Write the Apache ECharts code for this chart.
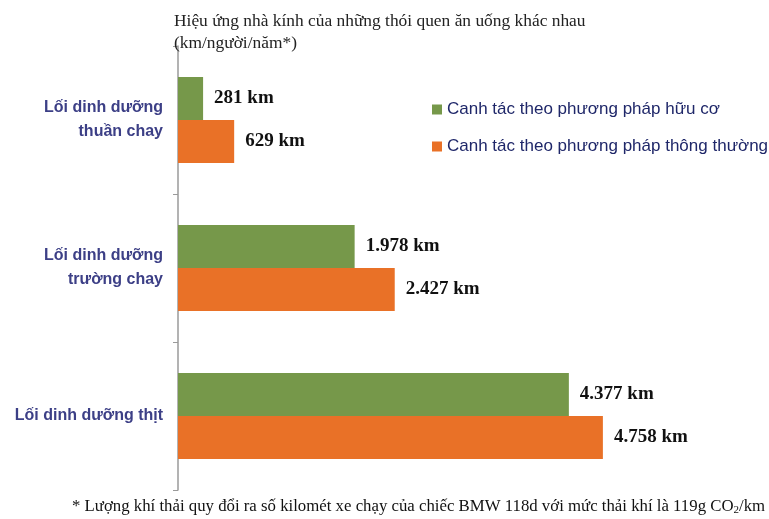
<!DOCTYPE html>
<html><head><meta charset="utf-8">
<script src="https://cdn.jsdelivr.net/npm/echarts@6/dist/echarts.min.js"></script>
<style>html,body{margin:0;padding:0;background:#fff}#c{width:769px;height:519px}</style>
</head><body><div id="c"></div>
<script>
var categories = ['Lối dinh dưỡng\nthuần chay', 'Lối dinh dưỡng\ntrường chay', 'Lối dinh dưỡng thịt'];
var seriesNames = ['Canh tác theo phương pháp hữu cơ', 'Canh tác theo phương pháp thông thường'];
var organic = [281, 1978, 4377];
var conventional = [629, 2427, 4758];
var titleText = 'Hiệu ứng nhà kính của những thói quen ăn uống khác nhau\n(km/người/năm*)';

function fmt(v){ return String(v).replace(/\B(?=(\d{3})+(?!\d))/g, '.') + ' km'; }
var labelCfg = {show:true, position:'right', distance:11, color:'#111', fontFamily:'Liberation Serif', fontWeight:'bold', fontSize:19,
  formatter:function(p){return fmt(p.value);}};

var chart = echarts.init(document.getElementById('c'), null, {renderer:'canvas'});
chart.setOption({
  animation:false,
  backgroundColor:'#fff',
  title:{text:titleText, left:169, top:5, textStyle:{fontFamily:'Liberation Serif', fontWeight:'normal', fontSize:17.4, color:'#222', lineHeight:22}},
  legend:{orient:'vertical', left:427, top:96, itemWidth:10, itemHeight:10, itemGap:20, icon:'rect',
    textStyle:{fontFamily:'Liberation Sans', fontSize:17, color:'#1f2769'}, data:seriesNames},
  grid:{left:178, right:144.5, top:46, bottom:29},
  xAxis:{type:'value', min:0, max:5000, show:false},
  yAxis:{type:'category', data:categories, inverse:true,
    axisLine:{lineStyle:{color:'#9a9a9a', width:1.5}},
    axisTick:{show:true, length:5, lineStyle:{color:'#9a9a9a'}},
    axisLabel:{margin:15, color:'#3c3f86', fontFamily:'Liberation Sans', fontWeight:'bold', fontSize:16, lineHeight:24, align:'right'}},
  series:[
    {name:seriesNames[0], type:'bar', data:organic, barWidth:43, barGap:'0%', itemStyle:{color:'#76984a'}, label:labelCfg},
    {name:seriesNames[1], type:'bar', data:conventional, barWidth:43, barGap:'0%', itemStyle:{color:'#e97127'}, label:labelCfg}
  ],
  graphic:[{type:'text', left:72, top:498, style:{
    text:'* Lượng khí thải quy đổi ra số kilomét xe chạy của chiếc BMW 118d với mức thải khí là 119g CO{s|2}/km',
    rich:{s:{fontSize:11, verticalAlign:'bottom', padding:[7,0,0,0], fontFamily:'Liberation Serif', fill:'#111'}},
    font:'16.8px "Liberation Serif"', fill:'#111'}}]
});
</script></body></html>
